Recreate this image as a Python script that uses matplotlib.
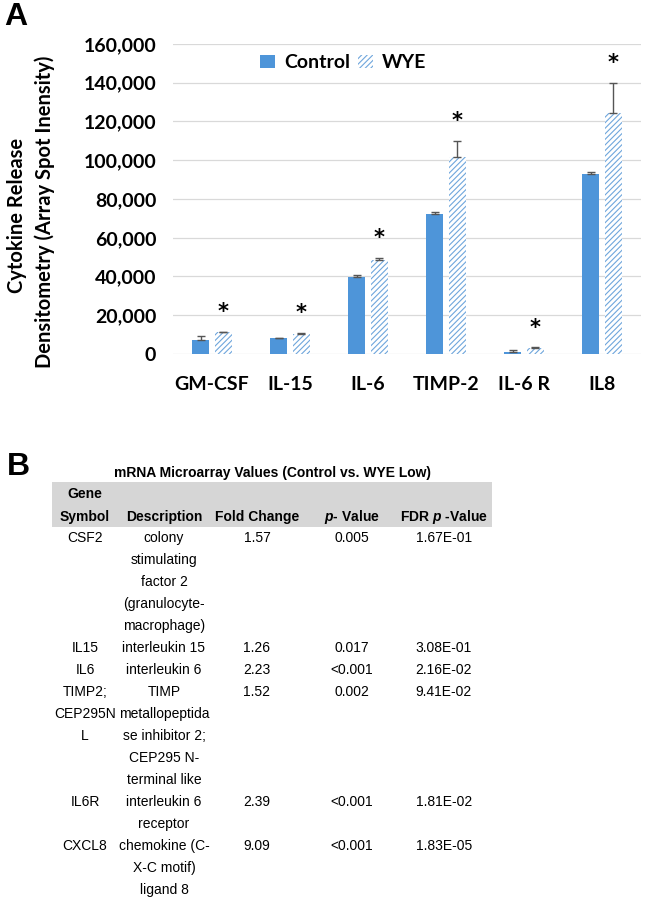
import matplotlib
matplotlib.use("Agg")
import matplotlib.pyplot as plt
from matplotlib.patches import Patch, Rectangle
import numpy as np

# Panel A data
cytokines = ['GM-CSF', 'IL-15', 'IL-6', 'TIMP-2', 'IL-6 R', 'IL8']
control = [7200, 8100, 39600, 72100, 900, 93000]
control_err = [1900, 200, 1400, 1300, 1000, 900]
wye = [11350, 10300, 48500, 101800, 2900, 124500]
wye_err = [150, 700, 1200, 8300, 500, 15300]
yticks = [0, 20000, 40000, 60000, 80000, 100000, 120000, 140000, 160000]

# Panel B data
table_title = 'mRNA Microarray Values (Control vs. WYE Low)'
genes = ['CSF2', 'IL15', 'IL6', 'TIMP2;\nCEP295N\nL', 'IL6R', 'CXCL8']
descriptions = ['colony\nstimulating\nfactor 2\n(granulocyte-\nmacrophage)',
                'interleukin 15', 'interleukin 6',
                'TIMP\nmetallopeptida\nse inhibitor 2;\nCEP295 N-\nterminal like',
                'interleukin 6\nreceptor',
                'chemokine (C-\nX-C motif)\nligand 8']
fold_change = ['1.57', '1.26', '2.23', '1.52', '2.39', '9.09']
p_values = ['0.005', '0.017', '<0.001', '0.002', '<0.001', '<0.001']
fdr_values = ['1.67E-01', '3.08E-01', '2.16E-02', '9.41E-02', '1.81E-02', '1.83E-05']

tab_font = 'Liberation Sans'
plt.rcParams['mathtext.fontset'] = 'custom'
plt.rcParams['mathtext.it'] = tab_font + ':italic:bold'
plt.rcParams['mathtext.rm'] = tab_font + ':bold'
plt.rcParams['hatch.linewidth'] = 0.8
plt.rcParams['font.family'] = ['Lato', 'DejaVu Sans']

blue = '#4e95d9'
hatch_blue = '#6fa6dc'
W, H = 646, 913
fig = plt.figure(figsize=(W / 100, H / 100), dpi=100)

# ---- panel A ----
ax = fig.add_axes([173 / W, 1 - 354 / H, 468 / W, 310 / H])
x = np.arange(len(cytokines))
bw = 0.22
off = 0.145
ax.bar(x - off, control, bw, color=blue, zorder=2)
ax.bar(x + off, wye, bw, color='white', edgecolor=hatch_blue, hatch='//////', linewidth=0, zorder=2)
ax.errorbar(x - off, control, yerr=[np.zeros(6), control_err], fmt='none',
            ecolor='#555555', elinewidth=1, capsize=3, capthick=1, zorder=3)
ax.errorbar(x + off, wye, yerr=[np.zeros(6), wye_err], fmt='none',
            ecolor='#555555', elinewidth=1, capsize=3, capthick=1, zorder=3)
for xi, v, e in zip(x, wye, wye_err):
    ax.annotate('*', (xi + off, v + e), xytext=(0, 10), textcoords='offset points',
                ha='center', va='baseline', fontsize=15, fontweight='bold',
                family='DejaVu Sans')

ax.set_xlim(-0.5, 5.5)
ax.set_ylim(0, 160000)
ax.set_yticks(yticks)
ax.set_yticklabels([f'{t:,}' for t in yticks])
ax.set_xticks(x)
ax.set_xticklabels(cytokines)
ax.grid(axis='y', color='#d9d9d9', linewidth=0.9, zorder=0)
ax.set_axisbelow(True)
for s in ax.spines.values():
    s.set_visible(False)
ax.tick_params(axis='y', length=0, pad=12, labelsize=14)
ax.tick_params(axis='x', length=0, pad=16, labelsize=14)
for lab in ax.get_xticklabels() + ax.get_yticklabels():
    lab.set_fontweight('bold')

handles = [Patch(facecolor=blue, label='Control'),
           Patch(facecolor='white', edgecolor=hatch_blue, hatch='//////', linewidth=0, label='WYE')]
leg = ax.legend(handles=handles, loc='center', bbox_to_anchor=(0.363, 0.939), ncol=2,
                frameon=False, handlelength=0.78, handleheight=0.7, handletextpad=0.45,
                columnspacing=0.4, prop={'weight': 'bold', 'size': 14})

# overlay in pixel coordinates for labels and the table
ov = fig.add_axes([0, 0, 1, 1], zorder=-1)
ov.set_xlim(0, W)
ov.set_ylim(H, 0)
ov.axis('off')

ov.text(17, 215, 'Cytokine Release', rotation=90, ha='center', va='center',
        fontsize=14.5, fontweight='bold')
ov.text(45, 212, 'Densitometry (Array Spot Inensity)', rotation=90, ha='center',
        va='center', fontsize=14.5, fontweight='bold')
ov.text(4, 17, 'A', fontsize=23, fontweight='bold', family='Liberation Sans',
        ha='left', va='center')
ov.text(7, 467, 'B', fontsize=23, fontweight='bold', family='Liberation Sans',
        ha='left', va='center')

# ---- panel B ----
tf = dict(family=tab_font, fontsize=10, ha='center', va='center')
ov.text(272, 473, table_title, fontweight='bold', **tf)
ov.add_patch(Rectangle((52, 482), 440, 45, facecolor='#d6d6d6', edgecolor='none'))
col_x = [85, 164, 257, 352, 444]
ov.text(col_x[0], 494, 'Gene', fontweight='bold', **tf)
ov.text(col_x[0], 517, 'Symbol', fontweight='bold', **tf)
ov.text(col_x[1], 517, 'Description', fontweight='bold', **tf)
ov.text(col_x[2], 517, 'Fold Change', fontweight='bold', **tf)
ov.text(col_x[3], 517, r'$\mathit{p}$- Value', fontweight='bold', **tf)
ov.text(col_x[4], 517, r'FDR $\mathit{p}$ -Value', fontweight='bold', **tf)

step = 22
y0 = 538
for row in zip(genes, descriptions, fold_change, p_values, fdr_values):
    nlines = max(c.count('\n') + 1 for c in row)
    for cx, cell in zip(col_x, row):
        for k, line in enumerate(cell.split('\n')):
            ov.text(cx, y0 + k * step, line, **tf)
    y0 += nlines * step

fig.savefig('out.png', dpi=100)
